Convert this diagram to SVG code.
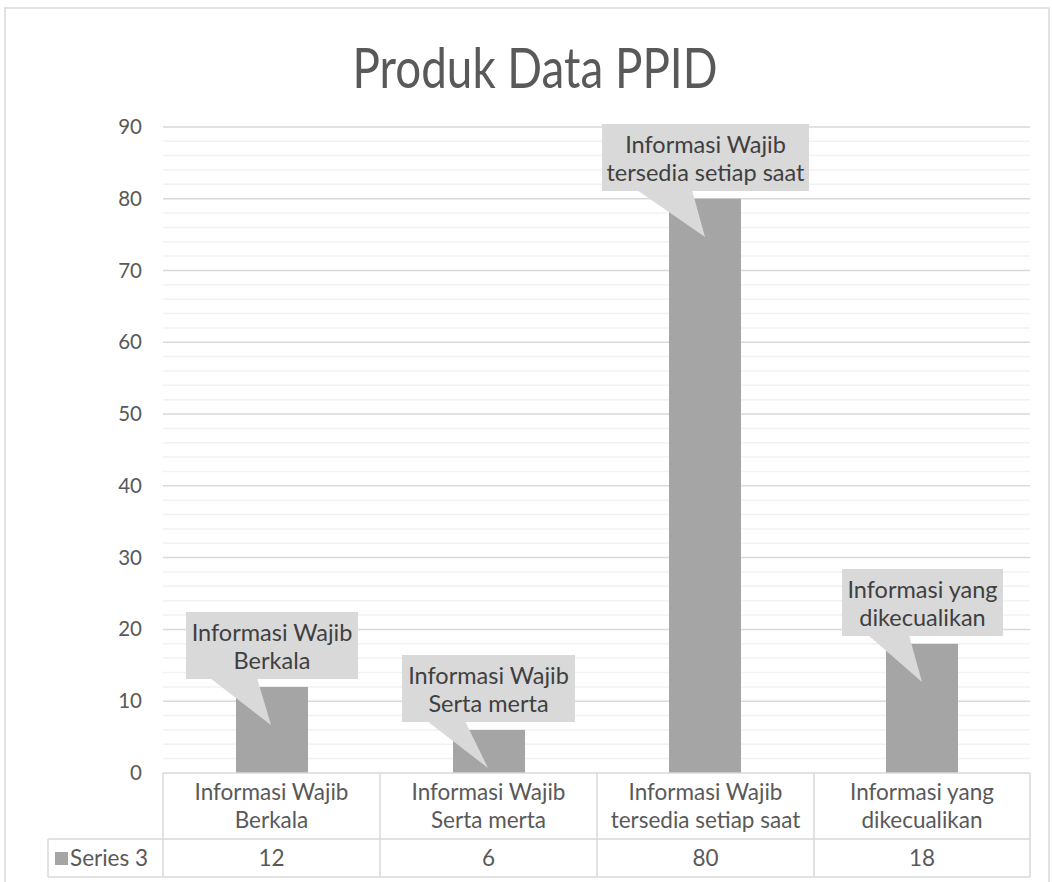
<svg xmlns="http://www.w3.org/2000/svg" width="1052" height="882" viewBox="0 0 1052 882">
<style>
.minor{stroke:#f2f2f2;stroke-width:1.5}
.major{stroke:#d9d9d9;stroke-width:1.5}
.bar{fill:#a5a5a5}
.call{fill:#d9d9d9}
.ct{font-family:Lato,"Liberation Sans",sans-serif;font-size:23.5px;fill:#404040;text-anchor:middle}
.ax{font-family:Lato,"Liberation Sans",sans-serif;font-size:20.5px;fill:#595959;text-anchor:end}
.tb{font-family:Lato,"Liberation Sans",sans-serif;font-size:22.5px;fill:#595959;text-anchor:middle}
.tl{stroke:#d9d9d9;stroke-width:1.5;fill:none}
</style>
<rect x="0" y="0" width="1052" height="882" fill="#ffffff"/>
<rect x="5" y="8" width="1044" height="890" fill="none" stroke="#d9d9d9" stroke-width="1.5"/>
<text x="535" y="88" font-family="Lato,'Liberation Sans',sans-serif" font-size="57" fill="#595959" text-anchor="middle" textLength="365" lengthAdjust="spacingAndGlyphs">Produk Data PPID</text>
<g id="gridlines">
<line class="minor" x1="163" x2="1030" y1="758.6" y2="758.6"/><line class="minor" x1="163" x2="1030" y1="744.3" y2="744.3"/><line class="minor" x1="163" x2="1030" y1="729.9" y2="729.9"/><line class="minor" x1="163" x2="1030" y1="715.6" y2="715.6"/>
<line class="minor" x1="163" x2="1030" y1="686.9" y2="686.9"/><line class="minor" x1="163" x2="1030" y1="672.5" y2="672.5"/><line class="minor" x1="163" x2="1030" y1="658.1" y2="658.1"/><line class="minor" x1="163" x2="1030" y1="643.8" y2="643.8"/>
<line class="minor" x1="163" x2="1030" y1="615.1" y2="615.1"/><line class="minor" x1="163" x2="1030" y1="600.7" y2="600.7"/><line class="minor" x1="163" x2="1030" y1="586.3" y2="586.3"/><line class="minor" x1="163" x2="1030" y1="572.0" y2="572.0"/>
<line class="minor" x1="163" x2="1030" y1="543.3" y2="543.3"/><line class="minor" x1="163" x2="1030" y1="528.9" y2="528.9"/><line class="minor" x1="163" x2="1030" y1="514.6" y2="514.6"/><line class="minor" x1="163" x2="1030" y1="500.2" y2="500.2"/>
<line class="minor" x1="163" x2="1030" y1="471.5" y2="471.5"/><line class="minor" x1="163" x2="1030" y1="457.1" y2="457.1"/><line class="minor" x1="163" x2="1030" y1="442.8" y2="442.8"/><line class="minor" x1="163" x2="1030" y1="428.4" y2="428.4"/>
<line class="minor" x1="163" x2="1030" y1="399.7" y2="399.7"/><line class="minor" x1="163" x2="1030" y1="385.3" y2="385.3"/><line class="minor" x1="163" x2="1030" y1="371.0" y2="371.0"/><line class="minor" x1="163" x2="1030" y1="356.6" y2="356.6"/>
<line class="minor" x1="163" x2="1030" y1="327.9" y2="327.9"/><line class="minor" x1="163" x2="1030" y1="313.5" y2="313.5"/><line class="minor" x1="163" x2="1030" y1="299.2" y2="299.2"/><line class="minor" x1="163" x2="1030" y1="284.8" y2="284.8"/>
<line class="minor" x1="163" x2="1030" y1="256.1" y2="256.1"/><line class="minor" x1="163" x2="1030" y1="241.7" y2="241.7"/><line class="minor" x1="163" x2="1030" y1="227.4" y2="227.4"/><line class="minor" x1="163" x2="1030" y1="213.0" y2="213.0"/>
<line class="minor" x1="163" x2="1030" y1="184.3" y2="184.3"/><line class="minor" x1="163" x2="1030" y1="169.9" y2="169.9"/><line class="minor" x1="163" x2="1030" y1="155.6" y2="155.6"/><line class="minor" x1="163" x2="1030" y1="141.2" y2="141.2"/>
<line class="major" x1="163" x2="1030" y1="701.2" y2="701.2"/>
<line class="major" x1="163" x2="1030" y1="629.4" y2="629.4"/>
<line class="major" x1="163" x2="1030" y1="557.6" y2="557.6"/>
<line class="major" x1="163" x2="1030" y1="485.8" y2="485.8"/>
<line class="major" x1="163" x2="1030" y1="414.0" y2="414.0"/>
<line class="major" x1="163" x2="1030" y1="342.2" y2="342.2"/>
<line class="major" x1="163" x2="1030" y1="270.5" y2="270.5"/>
<line class="major" x1="163" x2="1030" y1="198.7" y2="198.7"/>
<line class="major" x1="163" x2="1030" y1="126.9" y2="126.9"/>
</g>
<g id="yaxis">
<text class="ax" x="142" y="780">0</text>
<text class="ax" x="142" y="708.2">10</text>
<text class="ax" x="142" y="636.4">20</text>
<text class="ax" x="142" y="564.6">30</text>
<text class="ax" x="142" y="492.8">40</text>
<text class="ax" x="142" y="421">50</text>
<text class="ax" x="142" y="349.2">60</text>
<text class="ax" x="142" y="277.5">70</text>
<text class="ax" x="142" y="205.7">80</text>
<text class="ax" x="142" y="133.9">90</text>
</g>
<g id="bars">
<rect class="bar" x="236" y="686.9" width="72" height="86.1"/>
<rect class="bar" x="453" y="729.9" width="72" height="43.1"/>
<rect class="bar" x="669" y="198.7" width="72" height="574.3"/>
<rect class="bar" x="886" y="643.8" width="72" height="129.2"/>
</g>
<g id="callout-1">
<rect class="call" x="186" y="612" width="172" height="67"/>
<polygon class="call" points="210,678 257,678 271,725"/>
<text class="ct" x="272" y="641">Informasi Wajib</text>
<text class="ct" x="272" y="669">Berkala</text>
</g>
<g id="callout-2">
<rect class="call" x="402" y="655" width="173" height="67"/>
<polygon class="call" points="427,721 465,721 488,768"/>
<text class="ct" x="488.5" y="684">Informasi Wajib</text>
<text class="ct" x="488.5" y="712">Serta merta</text>
</g>
<g id="callout-3">
<rect class="call" x="602" y="124" width="207" height="67"/>
<polygon class="call" points="637,190 692,190 705,237"/>
<text class="ct" x="705.5" y="153">Informasi Wajib</text>
<text class="ct" x="705.5" y="181">tersedia setiap saat</text>
</g>
<g id="callout-4">
<rect class="call" x="842" y="569" width="161" height="67"/>
<polygon class="call" points="868,635 909,635 922,682"/>
<text class="ct" x="922.5" y="598">Informasi yang</text>
<text class="ct" x="922.5" y="626">dikecualikan</text>
</g>
<g id="table">
<path class="tl" d="M163,773 H1030 M48,839 H1030 M48,877 H1030 M48,839 V877 M163,773 V877 M380,773 V877 M597,773 V877 M814,773 V877 M1030,773 V877"/>
<text class="tb" x="271.5" y="800">Informasi Wajib</text>
<text class="tb" x="271.5" y="828">Berkala</text>
<text class="tb" x="488.5" y="800">Informasi Wajib</text>
<text class="tb" x="488.5" y="828">Serta merta</text>
<text class="tb" x="705.5" y="800">Informasi Wajib</text>
<text class="tb" x="705.5" y="828">tersedia setiap saat</text>
<text class="tb" x="922" y="800">Informasi yang</text>
<text class="tb" x="922" y="828">dikecualikan</text>
<rect x="55" y="852" width="13" height="13" fill="#a5a5a5"/>
<text x="70" y="866" font-family="Lato,'Liberation Sans',sans-serif" font-size="22.5" fill="#595959">Series 3</text>
<text class="tb" x="271.5" y="866">12</text>
<text class="tb" x="488.5" y="866">6</text>
<text class="tb" x="705.5" y="866">80</text>
<text class="tb" x="922" y="866">18</text>
</g>
</svg>
